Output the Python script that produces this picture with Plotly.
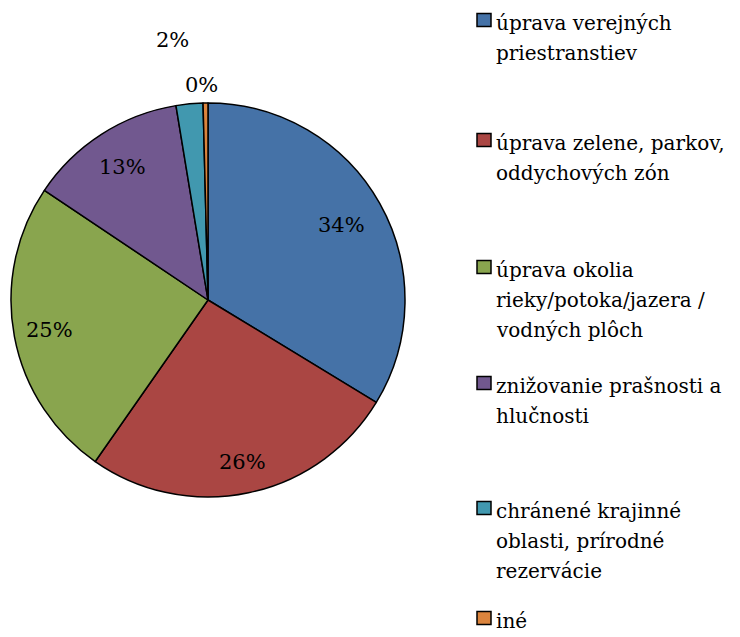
import math
import plotly.graph_objects as go

categories = [
    "úprava verejných<br>priestranstiev",
    "úprava zelene, parkov,<br>oddychových zón",
    "úprava okolia<br>rieky/potoka/jazera /<br>vodných plôch",
    "znižovanie prašnosti a<br>hlučnosti",
    "chránené krajinné<br>oblasti, prírodné<br>rezervácie",
    "iné",
]
values = [33.7, 26.0, 24.7, 13.0, 2.2, 0.4]
colors = ["#4572A7", "#AA4643", "#89A54E", "#71588F", "#4198AF", "#DB843D"]

FONT = "DejaVu Serif"
W, H = 740, 637
cx, cy, R = 208, 300, 197
label_r = [0.78, 0.84, 0.82, 0.80, 1.33, 1.09]
label_shift = [0, 0, 0, 0, -2.3, -1.0]  # degrees
LABEL_SIZE = 21

legend_sq_y = [20, 140, 267, 383, 508, 618]
LEG_SQ_X0, LEG_SQ_X1, SQ = 477, 491, 13
LEG_TEXT_X = 494
LINE_H = 30
LEG_SIZE = 20

fig = go.Figure(go.Pie(
    labels=[c.replace("<br>", " ") for c in categories],
    values=values,
    sort=False,
    direction="clockwise",
    rotation=0,
    marker=dict(colors=colors, line=dict(color="black", width=1.5)),
    textinfo="none",
    hoverinfo="label+percent",
    showlegend=False,
    domain=dict(x=[(cx - R) / W, (cx + R) / W], y=[1 - (cy + R) / H, 1 - (cy - R) / H]),
))

def px2x(p):
    return p / W

def px2y(p):
    return 1 - p / H

total = sum(values)
cum = 0
annotations = []
for v, rf, sh in zip(values, label_r, label_shift):
    mid = (cum + v / 2) / total * 360 + sh
    cum += v
    a = math.radians(mid)
    px = cx + rf * R * math.sin(a)
    py = cy - rf * R * math.cos(a)
    annotations.append(dict(
        x=px2x(px), y=px2y(py), xref="paper", yref="paper",
        text=f"{round(v / total * 100)}%", showarrow=False,
        font=dict(family=FONT, size=LABEL_SIZE, color="black"),
        xanchor="center", yanchor="middle",
    ))

shapes = []
for cat, col, sy in zip(categories, colors, legend_sq_y):
    shapes.append(dict(
        type="rect", xref="paper", yref="paper",
        x0=px2x(LEG_SQ_X0), x1=px2x(LEG_SQ_X1),
        y0=px2y(sy + SQ / 2), y1=px2y(sy - SQ / 2),
        fillcolor=col, line=dict(color="black", width=1.5),
    ))
    base = sy + 12
    for i, line in enumerate(cat.split("<br>")):
        b = base + i * LINE_H
        annotations.append(dict(
            x=px2x(LEG_TEXT_X), y=px2y(b - 0.36 * LEG_SIZE - 2), xref="paper", yref="paper",
            text=line, showarrow=False, xanchor="left", yanchor="middle",
            font=dict(family=FONT, size=LEG_SIZE, color="black"),
        ))

fig.update_layout(
    width=W, height=H,
    margin=dict(l=0, r=0, t=0, b=0),
    paper_bgcolor="white", plot_bgcolor="white",
    showlegend=False,
    annotations=annotations,
    shapes=shapes,
)

fig.write_html(
    "out.html",
    config={"displayModeBar": False},
    post_script="document.body.style.margin='0';document.body.style.overflow='hidden';",
)
